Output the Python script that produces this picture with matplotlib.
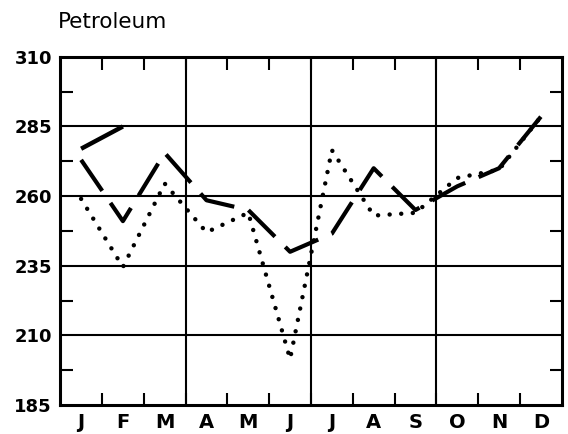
import numpy as np
import matplotlib.pyplot as plt

months = ['J', 'F', 'M', 'A', 'M', 'J', 'J', 'A', 'S', 'O', 'N', 'D']
dashed = [273, 251, 275.5, 258.5, 255, 240, 246.5, 270, 255, 263.5, 270, 288.5]
dotted = [259, 234.5, 264.5, 247, 254, 201.5, 276.5, 253, 254, 266.5, 269.5, 288.5]
# short extra piece at the start (J -> F)
upper = [277, 285]

x = np.arange(12) + 0.5

fig = plt.figure(figsize=(5.68, 4.34), dpi=100)
ax = fig.add_axes([0.106, 0.067, 0.883, 0.802])

for v in [3, 6, 9]:
    ax.axvline(v, color='black', lw=1.5, zorder=1)
for v in [285, 260, 235, 210]:
    ax.axhline(v, color='black', lw=1.5, zorder=1)

ax.plot(x, dashed, color='black', lw=3, linestyle=(0, (9, 3.5)), zorder=3)
ax.plot(x, dotted, color='black', lw=3.2, linestyle=(0, (0.01, 2.6)),
        dash_capstyle='round', zorder=3)
ax.plot(x[:2], upper, color='black', lw=3.2, solid_capstyle='butt', zorder=3)

ax.set_xlim(0, 12)
ax.set_ylim(185, 310)
ax.set_xticks(x)
ax.set_xticklabels(months, fontsize=14, fontweight='bold')
ax.set_xticks(np.arange(1, 12), minor=True)
ax.set_yticks(np.arange(185, 311, 25))
ax.set_yticklabels([str(v) for v in range(185, 311, 25)], fontsize=13,
                   fontweight='bold')
ax.set_yticks(np.arange(197.5, 310, 25), minor=True)

ax.tick_params(which='major', length=0, pad=6)
ax.tick_params(which='minor', direction='in', length=9, width=1.5,
               top=True, bottom=True, left=True, right=True)

for s in ax.spines.values():
    s.set_linewidth(2.2)

fig.text(0.102, 0.95, 'Petroleum', fontsize=15.5, ha='left', va='center')

fig.savefig('out.png', dpi=100)
